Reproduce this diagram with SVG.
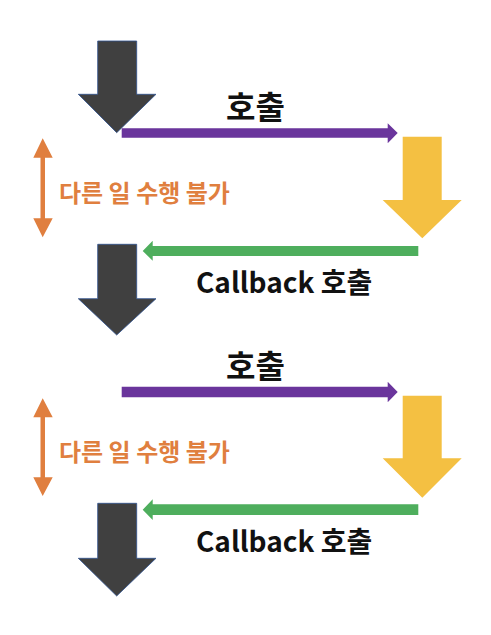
<svg xmlns="http://www.w3.org/2000/svg" width="491" height="635" viewBox="0 0 491 635">
<style>
.dark{fill:#404040;stroke:#2F528F;stroke-width:0.8}
.yel{fill:#F4C042}
.pur{fill:#6A359C}
.grn{fill:#4EAE5D}
.org{fill:#E07F3F}
.lbl{font-family:"Noto Sans CJK KR","Noto Sans",sans-serif;font-weight:bold;fill:#111}
.olbl{font-family:"Noto Sans CJK KR","Noto Sans",sans-serif;font-weight:bold;fill:#E07F3F}
</style>
<rect width="491" height="635" fill="#fff"/>
<g id="main1"><polygon class="dark" points="97.7,41 136.7,41 136.7,94.3 156,94.3 116.7,132.7 78.3,94.3 97.7,94.3"/></g>
<g id="main2"><polygon class="dark" points="97.7,244.3 136.7,244.3 136.7,298.7 156,298.7 116.7,335 78.3,298.7 97.7,298.7"/></g>
<g id="main3"><polygon class="dark" points="97.7,503.3 136.7,503.3 136.7,558.3 156,558.3 116.7,596 78.3,558.3 97.7,558.3"/></g>
<g id="callee1"><polygon class="yel" points="402.7,136.7 441.7,136.7 441.7,200 461.7,200 422.3,238.3 382.7,200 402.7,200"/></g>
<g id="callee2"><polygon class="yel" points="402.7,395.7 441.7,395.7 441.7,458.3 461.7,458.3 422.3,497.7 382.7,458.3 402.7,458.3"/></g>
<g id="block1"><polygon class="org" points="42.7,138.3 52.7,157.7 45,157.7 45,218.3 52.7,218.3 42.7,237.3 33.3,218.3 40.5,218.3 40.5,157.7 33.3,157.7"/>
<text class="olbl" x="59" y="201.5" font-size="24">다른 일 수행 불가</text></g>
<g id="block2"><polygon class="org" points="42.7,398.3 52.7,417.3 45,417.3 45,477.3 52.7,477.3 42.7,496 33.3,477.3 40.5,477.3 40.5,417.3 33.3,417.3"/>
<text class="olbl" x="59" y="460.5" font-size="24">다른 일 수행 불가</text></g>
<g id="connectors">
<polygon class="pur" points="121.7,128.3 387.7,128.3 387.7,123.3 397.7,133 387.7,143.3 387.7,137.7 121.7,137.7"/>
<polygon class="grn" points="418.3,246 152.7,246 152.7,240.7 142.7,251 152.7,260.7 152.7,256 418.3,256"/>
<polygon class="pur" points="121.7,386.7 387.7,386.7 387.7,381.7 397.7,392 387.7,402.3 387.7,397.3 121.7,397.3"/>
<polygon class="grn" points="418.3,504.3 152.7,504.3 152.7,499.3 142.7,509.7 152.7,520 152.7,515 418.3,515"/>
<text class="lbl" x="226" y="119" font-size="32">호출</text>
<text class="lbl" x="196" y="293" font-size="28">Callback 호출</text>
<text class="lbl" x="226" y="377.5" font-size="32">호출</text>
<text class="lbl" x="196" y="551.5" font-size="28">Callback 호출</text>
</g>
</svg>
